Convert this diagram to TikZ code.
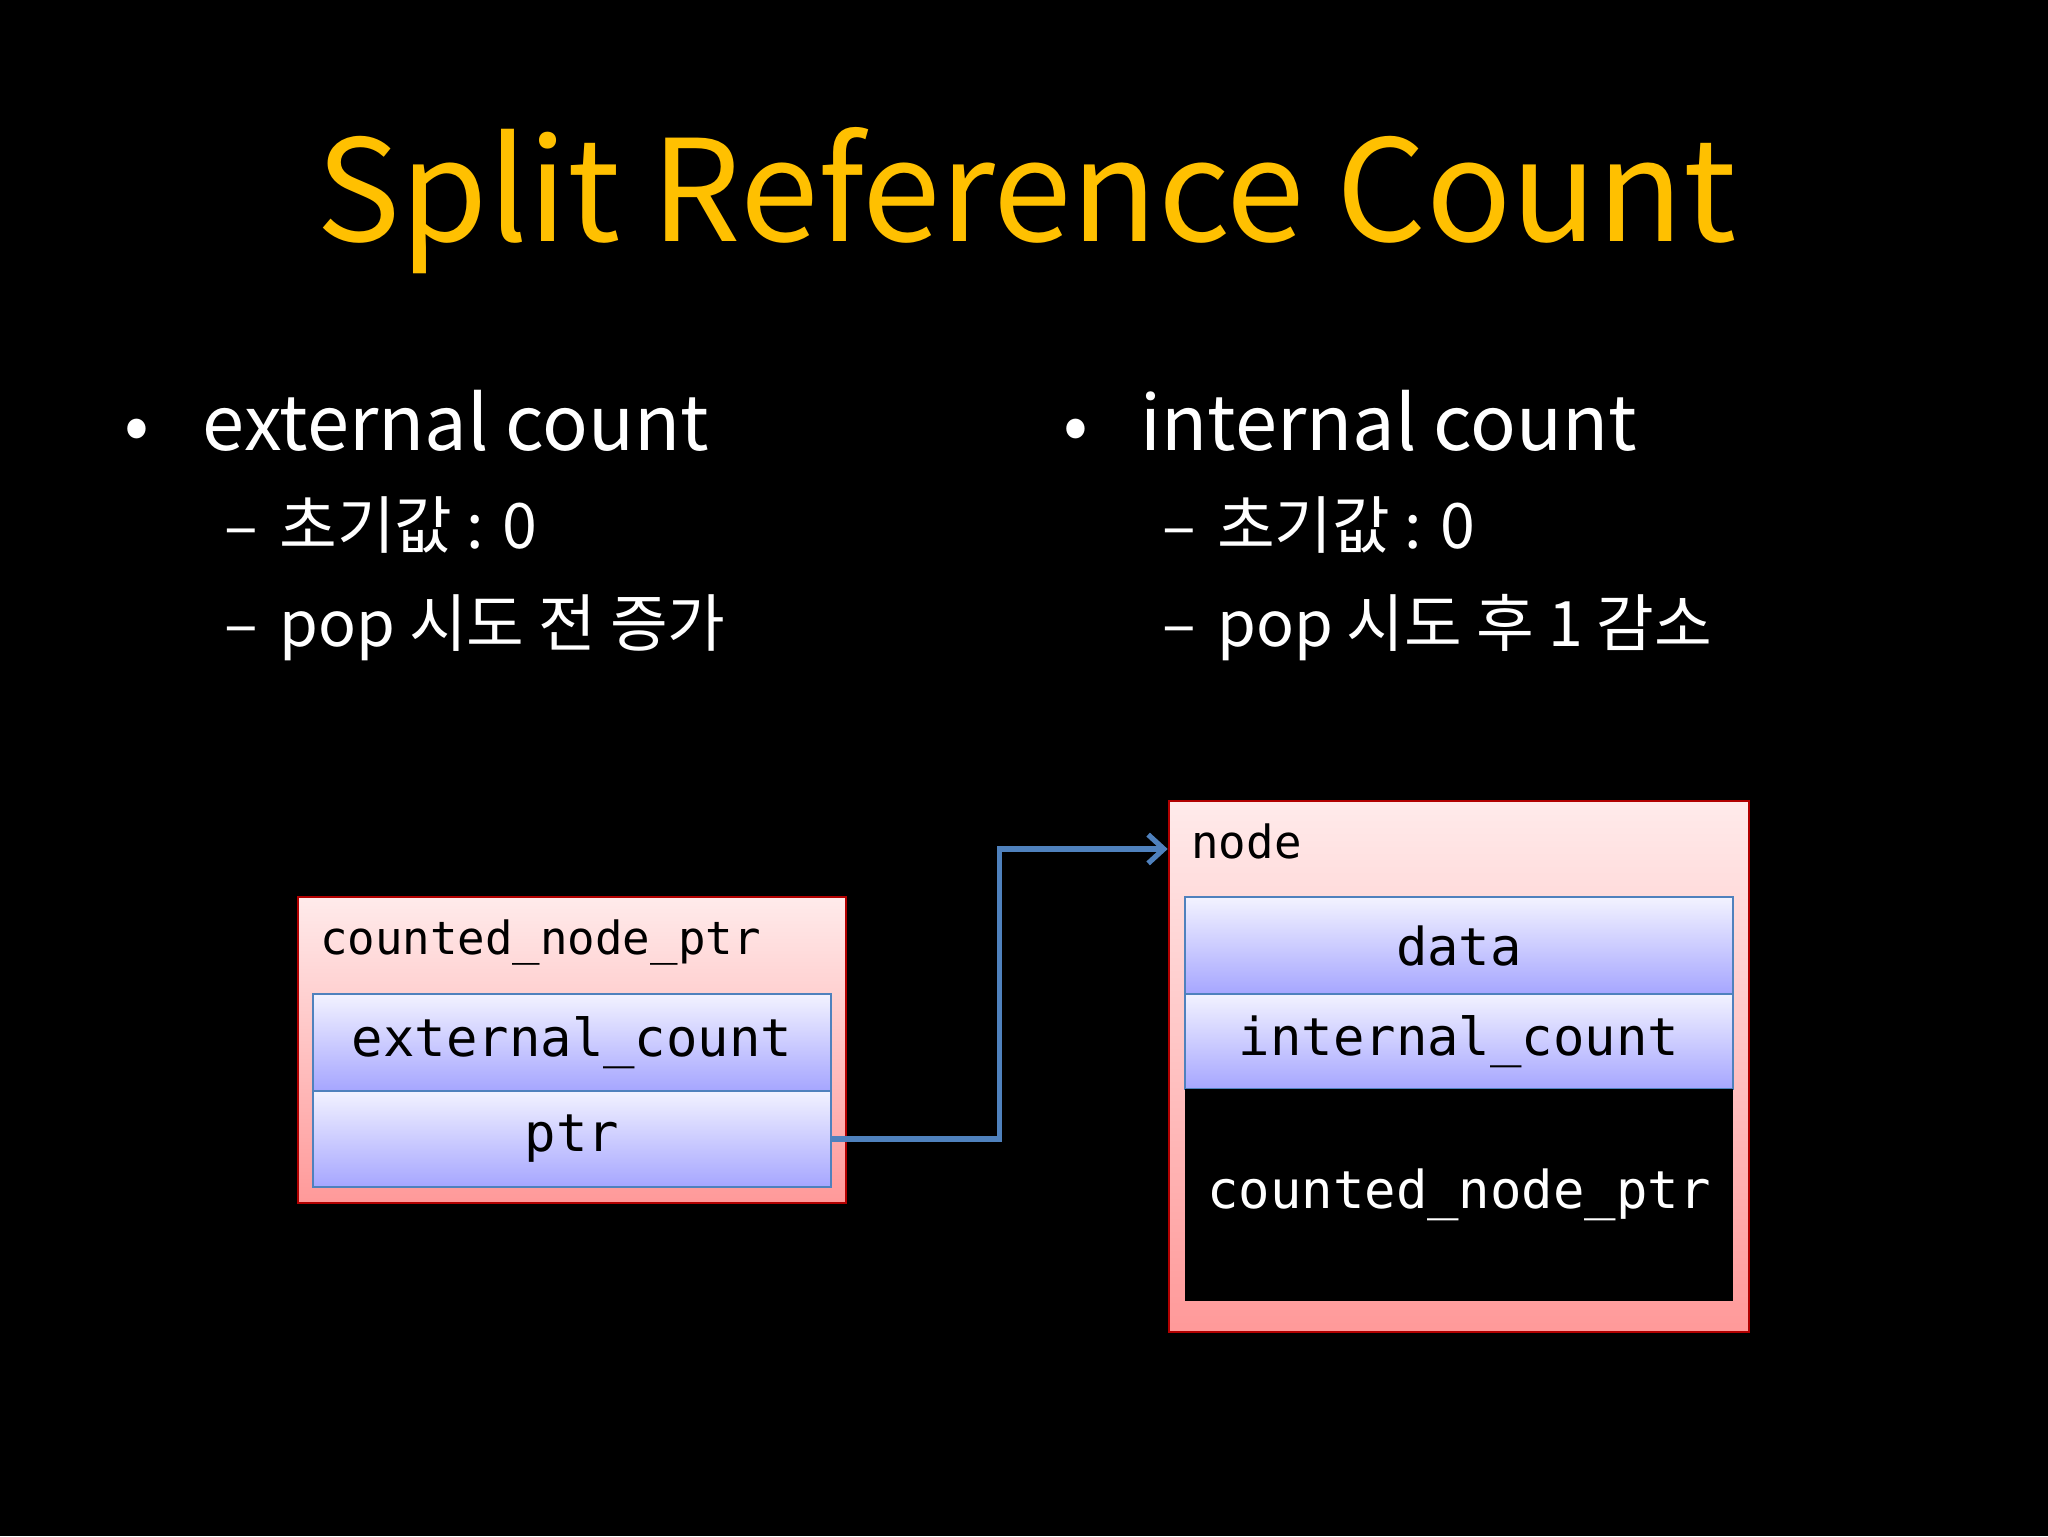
\documentclass[tikz,border=0pt]{standalone}
\usepackage{fontspec}
\setmainfont{Noto Sans CJK KR}
\newfontfamily\mono{DejaVu Sans Mono}
\usetikzlibrary{arrows.meta}
\definecolor{ttl}{HTML}{FFC000}
\definecolor{bl}{HTML}{4F81BD}
\tikzset{
  outerbox/.style={draw=red!70!black, line width=1.5pt, top color=red!8, bottom color=red!40},
  cellbox/.style={draw=bl, line width=1.5pt, top color=blue!5, bottom color=blue!35, font=\mono\fontsize{40}{40}\selectfont, text=black},
  txt/.style={anchor=base west, text=white, inner sep=0pt},
}
\begin{document}
\begin{tikzpicture}[x=1pt,y=-1pt]
\fill[black] (0,0) rectangle (1568,1176);
\useasboundingbox (0,0) rectangle (1568,1176);
\node[text=ttl, font=\fontsize{108}{108}\selectfont, anchor=base, inner sep=0pt] (title) at (786,185) {Split Reference Count};
% left bullets
\node[txt, font=\fontsize{56}{56}\selectfont] (lb) at (95,345) {•};
\node[txt, font=\fontsize{58}{58}\selectfont] (l1) at (155,345) {external count};
\node[txt, font=\fontsize{48}{48}\selectfont] (l2) at (172,420) {–\hspace{16pt}초기값 : 0};
\node[txt, font=\fontsize{48}{48}\selectfont] (l3) at (172,495) {–\hspace{16pt}pop 시도 전 증가};
% right bullets
\node[txt, font=\fontsize{56}{56}\selectfont] (rb) at (814,345) {•};
\node[txt, font=\fontsize{58}{58}\selectfont] (r1) at (873,345) {internal count};
\node[txt, font=\fontsize{48}{48}\selectfont] (r2) at (890,420) {–\hspace{16pt}초기값 : 0};
\node[txt, font=\fontsize{48}{48}\selectfont] (r3) at (890,495) {–\hspace{16pt}pop 시도 후 1 감소};
% left box
\path[outerbox] (228,687) rectangle (648,921);
\node[anchor=base west, inner sep=0pt, font=\mono\fontsize{35}{35}\selectfont] (lbl) at (245,731) {counted\_node\_ptr};
\node[cellbox, minimum width=396pt, minimum height=74pt, inner sep=0pt] (ext) at (438,798) {external\_count};
\node[cellbox, minimum width=396pt, minimum height=74pt, inner sep=0pt] (ptr) at (438,872) {ptr};
% right box
\path[outerbox] (895,613) rectangle (1339,1020);
\node[anchor=base west, inner sep=0pt, font=\mono\fontsize{35}{35}\selectfont] (nlbl) at (912,657) {node};
\node[cellbox, minimum width=420pt, minimum height=74pt, inner sep=0pt] (data) at (1117,724) {data};
\node[cellbox, minimum width=420pt, minimum height=73pt, inner sep=0pt] (ic) at (1117,797.5) {internal\_count};
\node[fill=black, minimum width=420pt, minimum height=162pt, inner sep=0pt, text=white, font=\mono\fontsize{40}{40}\selectfont] (cnp) at (1117,915) {counted\_node\_ptr};
\coordinate (tgt) at (894,650);
\draw[bl, line width=4pt, -{Straight Barb[length=12pt,width=22pt,line width=4pt]}] (ptr.east) -- (765,872) -- (765,650) -- (tgt);
\end{tikzpicture}
\end{document}
